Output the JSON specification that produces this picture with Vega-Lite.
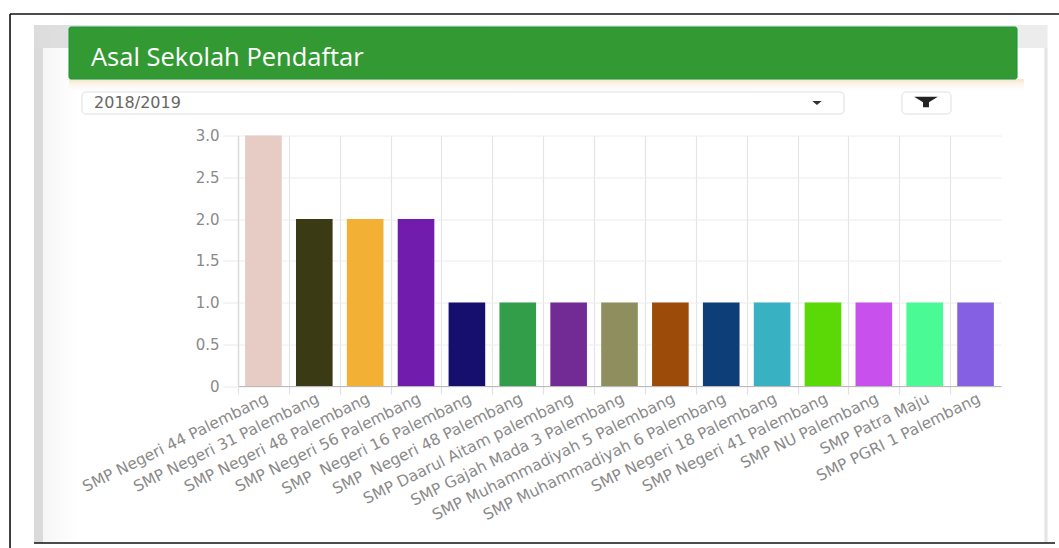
{"$schema":"https://vega.github.io/schema/vega-lite/v6.json","width":763,"height":250.5,"autosize":{"type":"none"},"padding":{"left":238,"top":135.5,"right":58,"bottom":162},"background":"#ffffff","config":{"view":{"stroke":null}},"resolve":{"scale":{"x":"independent","y":"independent","color":"independent"}},"layer":[{"data":{"values":[{"periode":"2018/2019","judul":"Asal Sekolah Pendaftar"}]},"layer":[
{"mark":{"type":"rect","fill":{"x1":0,"y1":0,"x2":1,"y2":0,"gradient":"linear","stops":[{"offset":0,"color":"#dcdcdc"},{"offset":0.12,"color":"#e8e8e8"},{"offset":1,"color":"#ececec"}]}},"encoding":{"x":{"datum":-0.2674,"type":"quantitative","scale":{"domain":[0,1],"zero":false,"nice":false},"axis":null},"x2":{"datum":1.061},"y":{"datum":1.4411,"type":"quantitative","scale":{"domain":[0,1],"zero":false,"nice":false},"axis":null},"y2":{"datum":1.3493}}},
{"mark":{"type":"rect","fill":"#dadada"},"encoding":{"x":{"datum":-0.2674,"type":"quantitative","scale":{"domain":[0,1],"zero":false,"nice":false},"axis":null},"x2":{"datum":-0.2556},"y":{"datum":1.3493,"type":"quantitative","scale":{"domain":[0,1],"zero":false,"nice":false},"axis":null},"y2":{"datum":-0.6267}}},
{"mark":{"type":"rect","fill":{"x1":0,"y1":0,"x2":1,"y2":0,"gradient":"linear","stops":[{"offset":0,"color":"#f6f6f6"},{"offset":1,"color":"#ffffff"}]}},"encoding":{"x":{"datum":-0.2556,"type":"quantitative","scale":{"domain":[0,1],"zero":false,"nice":false},"axis":null},"x2":{"datum":-0.21},"y":{"datum":1.3493,"type":"quantitative","scale":{"domain":[0,1],"zero":false,"nice":false},"axis":null},"y2":{"datum":-0.6267}}},
{"mark":{"type":"rect","fill":"#e4e4e4"},"encoding":{"x":{"datum":1.057,"type":"quantitative","scale":{"domain":[0,1],"zero":false,"nice":false},"axis":null},"x2":{"datum":1.061},"y":{"datum":1.3493,"type":"quantitative","scale":{"domain":[0,1],"zero":false,"nice":false},"axis":null},"y2":{"datum":-0.6267}}},
{"mark":{"type":"rect","fill":{"x1":0,"y1":0,"x2":0,"y2":1,"gradient":"linear","stops":[{"offset":0,"color":"#f7e4c8"},{"offset":0.4,"color":"#fbf5ec"},{"offset":1,"color":"#ffffff"}]}},"encoding":{"x":{"datum":-0.2215,"type":"quantitative","scale":{"domain":[0,1],"zero":false,"nice":false},"axis":null},"x2":{"datum":1.03},"y":{"datum":1.2255,"type":"quantitative","scale":{"domain":[0,1],"zero":false,"nice":false},"axis":null},"y2":{"datum":1.175}}},
{"mark":{"type":"rect","fill":"#339933","stroke":"#169640","strokeWidth":1,"cornerRadius":2},"encoding":{"x":{"datum":-0.2215,"type":"quantitative","scale":{"domain":[0,1],"zero":false,"nice":false},"axis":null},"x2":{"datum":1.021},"y":{"datum":1.4331,"type":"quantitative","scale":{"domain":[0,1],"zero":false,"nice":false},"axis":null},"y2":{"datum":1.2255}}},
{"mark":{"type":"text","font":"Open Sans","fontSize":25.5,"color":"#ffffff","align":"left","baseline":"alphabetic"},"encoding":{"text":{"field":"judul"},"x":{"datum":-0.1927,"type":"quantitative","scale":{"domain":[0,1],"zero":false,"nice":false},"axis":null},"y":{"datum":1.2775,"type":"quantitative","scale":{"domain":[0,1],"zero":false,"nice":false},"axis":null}}},
{"mark":{"type":"rect","fill":"#ffffff","stroke":"#dedede","strokeWidth":1,"cornerRadius":4},"encoding":{"x":{"datum":-0.2045,"type":"quantitative","scale":{"domain":[0,1],"zero":false,"nice":false},"axis":null},"x2":{"datum":0.7942},"y":{"datum":1.1737,"type":"quantitative","scale":{"domain":[0,1],"zero":false,"nice":false},"axis":null},"y2":{"datum":1.0858}}},
{"mark":{"type":"text","font":"DejaVu Sans","fontSize":16,"color":"#666666","align":"left","baseline":"middle"},"encoding":{"text":{"field":"periode"},"x":{"datum":-0.1887,"type":"quantitative","scale":{"domain":[0,1],"zero":false,"nice":false},"axis":null},"y":{"datum":1.1297,"type":"quantitative","scale":{"domain":[0,1],"zero":false,"nice":false},"axis":null}}},
{"mark":{"type":"point","filled":true,"opacity":1,"color":"#333333","shape":"M-1,-0.4 L1,-0.4 L0,0.4 Z","size":90},"encoding":{"x":{"datum":0.7588,"type":"quantitative","scale":{"domain":[0,1],"zero":false,"nice":false},"axis":null},"y":{"datum":1.1297,"type":"quantitative","scale":{"domain":[0,1],"zero":false,"nice":false},"axis":null}}},
{"mark":{"type":"rect","fill":"#ffffff","stroke":"#dedede","strokeWidth":1,"cornerRadius":4},"encoding":{"x":{"datum":0.8702,"type":"quantitative","scale":{"domain":[0,1],"zero":false,"nice":false},"axis":null},"x2":{"datum":0.9345},"y":{"datum":1.1737,"type":"quantitative","scale":{"domain":[0,1],"zero":false,"nice":false},"axis":null},"y2":{"datum":1.0858}}},
{"mark":{"type":"point","filled":true,"opacity":1,"color":"#222222","shape":"M-1,-0.45 L1,-0.45 L0.25,0.02 L0.25,0.45 L-0.25,0.45 L-0.25,0.02 Z","size":560},"encoding":{"x":{"datum":0.9017,"type":"quantitative","scale":{"domain":[0,1],"zero":false,"nice":false},"axis":null},"y":{"datum":1.1337,"type":"quantitative","scale":{"domain":[0,1],"zero":false,"nice":false},"axis":null}}},
{"mark":{"type":"rule","color":"#111111","strokeWidth":1.6},"encoding":{"x":{"datum":-0.2988,"type":"quantitative","scale":{"domain":[0,1],"zero":false,"nice":false},"axis":null},"x2":{"datum":1.076},"y":{"datum":1.485,"type":"quantitative","scale":{"domain":[0,1],"zero":false,"nice":false},"axis":null}}},
{"mark":{"type":"rule","color":"#111111","strokeWidth":1.6},"encoding":{"x":{"datum":-0.2674,"type":"quantitative","scale":{"domain":[0,1],"zero":false,"nice":false},"axis":null},"x2":{"datum":1.0708},"y":{"datum":-0.6267,"type":"quantitative","scale":{"domain":[0,1],"zero":false,"nice":false},"axis":null}}},
{"mark":{"type":"rule","color":"#111111","strokeWidth":1.6},"encoding":{"x":{"datum":-0.2988,"type":"quantitative","scale":{"domain":[0,1],"zero":false,"nice":false},"axis":null},"y":{"datum":1.485,"type":"quantitative","scale":{"domain":[0,1],"zero":false,"nice":false},"axis":null},"y2":{"datum":-0.65}}}
]},
{"data":{"values":[
{"sekolah":"SMP Negeri 44 Palembang","jumlah":3},
{"sekolah":"SMP Negeri 31 Palembang","jumlah":2},
{"sekolah":"SMP Negeri 48 Palembang","jumlah":2},
{"sekolah":"SMP Negeri 56 Palembang","jumlah":2},
{"sekolah":"SMP\u00a0 Negeri 16 Palembang","jumlah":1},
{"sekolah":"SMP\u00a0 Negeri 48 Palembang","jumlah":1},
{"sekolah":"SMP Daarul Aitam palembang","jumlah":1},
{"sekolah":"SMP Gajah Mada 3 Palembang","jumlah":1},
{"sekolah":"SMP Muhammadiyah 5 Palembang","jumlah":1},
{"sekolah":"SMP Muhammadiyah 6 Palembang","jumlah":1},
{"sekolah":"SMP Negeri 18 Palembang","jumlah":1},
{"sekolah":"SMP Negeri 41 Palembang","jumlah":1},
{"sekolah":"SMP NU Palembang","jumlah":1},
{"sekolah":"SMP Patra Maju","jumlah":1},
{"sekolah":"SMP PGRI 1 Palembang","jumlah":1}
]},"mark":{"type":"bar"},"encoding":{
"x":{"field":"sekolah","type":"nominal","sort":null,"title":null,"scale":{"paddingInner":0.28,"paddingOuter":0.14},"axis":{"grid":true,"gridColor":"#e4e4e4","gridWidth":1.2,"tickOffset":-25.43,"labelOffset":28.5,"tickSize":8,"tickColor":"#e0e0e0","tickWidth":1.2,"domainColor":"#bbbbbb","domainWidth":1,"labelAngle":-26.2,"labelAlign":"right","labelBaseline":"middle","labelPadding":3,"labelFont":"DejaVu Sans","labelFontSize":15.5,"labelColor":"#8a8a8a","labelLimit":400,"labelOverlap":false,"labelBound":false,"labelFlush":false}},
"y":{"field":"jumlah","type":"quantitative","title":null,"scale":{"domain":[0,3],"nice":false,"zero":true},"axis":{"values":[0,0.5,1,1.5,2,2.5,3],"grid":true,"gridColor":"#ececec","gridWidth":1,"tickSize":15,"tickColor":"#e8e8e8","tickWidth":1,"domainColor":"#dcdcdc","domainWidth":1.5,"labelPadding":4,"labelFont":"DejaVu Sans","labelFontSize":15,"labelColor":"#8a8a8a","labelExpr":"datum.value === 0 ? '0' : format(datum.value, '.1f')"}},
"color":{"field":"sekolah","type":"nominal","sort":null,"legend":null,"scale":{"domain":["SMP Negeri 44 Palembang","SMP Negeri 31 Palembang","SMP Negeri 48 Palembang","SMP Negeri 56 Palembang","SMP\u00a0 Negeri 16 Palembang","SMP\u00a0 Negeri 48 Palembang","SMP Daarul Aitam palembang","SMP Gajah Mada 3 Palembang","SMP Muhammadiyah 5 Palembang","SMP Muhammadiyah 6 Palembang","SMP Negeri 18 Palembang","SMP Negeri 41 Palembang","SMP NU Palembang","SMP Patra Maju","SMP PGRI 1 Palembang"],"range":["#e6ccc4","#3a3a14","#f2b035","#721cad","#160f6e","#339e4a","#722a95","#8e8e5e","#9c4c08","#0d3e78","#38b2c2","#5bd906","#c850ec","#4afb95","#8660e2"]}}
}}
]}
